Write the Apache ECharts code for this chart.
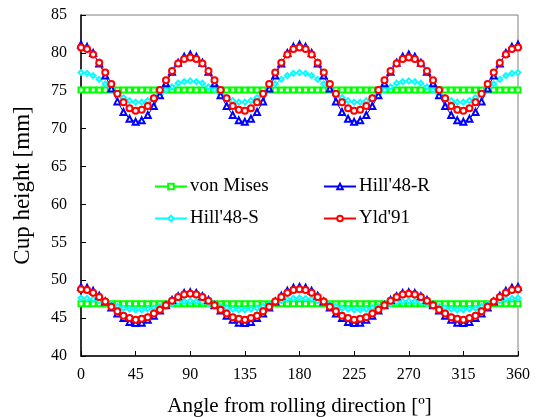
<!DOCTYPE html>
<html>
<head>
<meta charset="utf-8">
<script src="https://cdn.jsdelivr.net/npm/echarts@6/dist/echarts.min.js"></script>
<style>html,body{margin:0;padding:0;background:#fff}#c{width:539px;height:417px}</style>
</head>
<body>
<div id="c"></div>
<script>
// Angle from rolling direction [deg]
const angles = [0,5,10,15,20,25,30,35,40,45,50,55,60,65,70,75,80,85,90,95,100,105,110,115,120,125,130,135,140,145,150,155,160,165,170,175,180,185,190,195,200,205,210,215,220,225,230,235,240,245,250,255,260,265,270,275,280,285,290,295,300,305,310,315,320,325,330,335,340,345,350,355,360];
const xTicks = [0,45,90,135,180,225,270,315,360];
const yTicks = [40,45,50,55,60,65,70,75,80,85];

// Upper group (cup height ~75 mm)
const vonMisesHi = [75.1,75.1,75.1,75.1,75.1,75.1,75.1,75.1,75.1,75.1,75.1,75.1,75.1,75.1,75.1,75.1,75.1,75.1,75.1,75.1,75.1,75.1,75.1,75.1,75.1,75.1,75.1,75.1,75.1,75.1,75.1,75.1,75.1,75.1,75.1,75.1,75.1,75.1,75.1,75.1,75.1,75.1,75.1,75.1,75.1,75.1,75.1,75.1,75.1,75.1,75.1,75.1,75.1,75.1,75.1,75.1,75.1,75.1,75.1,75.1,75.1,75.1,75.1,75.1,75.1,75.1,75.1,75.1,75.1,75.1,75.1,75.1,75.1];
const hillRHi = [81.1,80.8,80.0,78.6,77.0,75.3,73.6,72.2,71.3,70.9,71.1,71.8,73.0,74.4,76.0,77.5,78.7,79.5,79.8,
79.5,78.7,77.5,76.0,74.4,73.0,71.8,71.1,70.9,71.3,72.2,73.6,75.3,77.0,78.6,80.0,80.8,81.1,
80.8,80.0,78.6,77.0,75.3,73.6,72.2,71.3,70.9,71.1,71.8,73.0,74.4,76.0,77.5,78.7,79.5,79.8,
79.5,78.7,77.5,76.0,74.4,73.0,71.8,71.1,70.9,71.3,72.2,73.6,75.3,77.0,78.6,80.0,80.8,81.1];
const hillSHi = [77.4,77.3,77.0,76.5,75.9,75.2,74.6,74.1,73.7,73.5,73.5,73.7,74.1,74.5,75.1,75.5,76.0,76.2,76.3,
76.2,76.0,75.5,75.1,74.5,74.1,73.7,73.5,73.5,73.7,74.1,74.6,75.2,75.9,76.5,77.0,77.3,77.4,
77.3,77.0,76.5,75.9,75.2,74.6,74.1,73.7,73.5,73.5,73.7,74.1,74.5,75.1,75.5,76.0,76.2,76.3,
76.2,76.0,75.5,75.1,74.5,74.1,73.7,73.5,73.5,73.7,74.1,74.6,75.2,75.9,76.5,77.0,77.3,77.4];
const yld91Hi = [80.7,80.5,79.8,78.7,77.4,75.9,74.6,73.5,72.7,72.35,72.5,73.0,74.0,75.1,76.4,77.6,78.6,79.2,79.4,
79.2,78.6,77.6,76.4,75.1,74.0,73.0,72.5,72.35,72.7,73.5,74.6,75.9,77.4,78.7,79.8,80.5,80.7,
80.5,79.8,78.7,77.4,75.9,74.6,73.5,72.7,72.35,72.5,73.0,74.0,75.1,76.4,77.6,78.6,79.2,79.4,
79.2,78.6,77.6,76.4,75.1,74.0,73.0,72.5,72.35,72.7,73.5,74.6,75.9,77.4,78.7,79.8,80.5,80.7];

// Lower group (cup height ~47 mm)
const vonMisesLo = [46.9,46.9,46.9,46.9,46.9,46.9,46.9,46.9,46.9,46.9,46.9,46.9,46.9,46.9,46.9,46.9,46.9,46.9,46.9,46.9,46.9,46.9,46.9,46.9,46.9,46.9,46.9,46.9,46.9,46.9,46.9,46.9,46.9,46.9,46.9,46.9,46.9,46.9,46.9,46.9,46.9,46.9,46.9,46.9,46.9,46.9,46.9,46.9,46.9,46.9,46.9,46.9,46.9,46.9,46.9,46.9,46.9,46.9,46.9,46.9,46.9,46.9,46.9,46.9,46.9,46.9,46.9,46.9,46.9,46.9,46.9,46.9,46.9];
const hillRLo = [49.1,49.0,48.6,47.95,47.2,46.4,45.6,45.0,44.5,44.35,44.4,44.8,45.3,46.0,46.7,47.4,47.9,48.3,48.4,
48.3,47.9,47.4,46.7,46.0,45.3,44.8,44.4,44.35,44.5,45.0,45.6,46.4,47.2,47.95,48.6,49.0,49.1,
49.0,48.6,47.95,47.2,46.4,45.6,45.0,44.5,44.35,44.4,44.8,45.3,46.0,46.7,47.4,47.9,48.3,48.4,
48.3,47.9,47.4,46.7,46.0,45.3,44.8,44.4,44.35,44.5,45.0,45.6,46.4,47.2,47.95,48.6,49.0,49.1];
const hillSLo = [47.65,47.6,47.5,47.3,47.05,46.8,46.55,46.3,46.2,46.1,46.1,46.2,46.35,46.5,46.7,46.9,47.1,47.2,47.25,
47.2,47.1,46.9,46.7,46.5,46.35,46.2,46.1,46.1,46.2,46.3,46.55,46.8,47.05,47.3,47.5,47.6,47.65,
47.6,47.5,47.3,47.05,46.8,46.55,46.3,46.2,46.1,46.1,46.2,46.35,46.5,46.7,46.9,47.1,47.2,47.25,
47.2,47.1,46.9,46.7,46.5,46.35,46.2,46.1,46.1,46.2,46.3,46.55,46.8,47.05,47.3,47.5,47.6,47.65];
const yld91Lo = [48.8,48.7,48.35,47.8,47.2,46.5,45.9,45.3,45.0,44.8,44.9,45.1,45.6,46.1,46.7,47.3,47.8,48.1,48.2,
48.1,47.8,47.3,46.7,46.1,45.6,45.1,44.9,44.8,45.0,45.3,45.9,46.5,47.2,47.8,48.35,48.7,48.8,
48.7,48.35,47.8,47.2,46.5,45.9,45.3,45.0,44.8,44.9,45.1,45.6,46.1,46.7,47.3,47.8,48.1,48.2,
48.1,47.8,47.3,46.7,46.1,45.6,45.1,44.9,44.8,45.0,45.3,45.9,46.5,47.2,47.8,48.35,48.7,48.8];

const FONT = "'Liberation Serif','Times New Roman',serif";
const pairs = ys => angles.map((a, i) => [a, ys[i]]);

const styles = {
  "von Mises": {color: '#00ff00', symbol: 'emptyRect', size: 5},
  "Hill'48-S": {color: '#00ffff', symbol: 'emptyDiamond', size: 5},
  "Hill'48-R": {color: '#0000ff', symbol: 'emptyTriangle', size: 6},
  "Yld'91":    {color: '#ff0000', symbol: 'emptyCircle', size: 6}
};
function mk(name, ys) {
  const s = styles[name];
  return {
    name: name, type: 'line', data: pairs(ys),
    symbol: s.symbol, symbolSize: s.size, showSymbol: true,
    lineStyle: {color: s.color, width: 1},
    itemStyle: {color: s.color, borderColor: s.color, borderWidth: 1},
    animation: false, silent: true
  };
}

const chart = echarts.init(document.getElementById('c'), null, {renderer: 'canvas'});
const legendCommon = {
  orient: 'vertical', top: 177, padding: 0, itemWidth: 32, itemHeight: 7, itemGap: 13,
  textStyle: {fontFamily: FONT, fontSize: 19, color: '#000', padding: [0, 0, 0, -2]},
  selectedMode: false
};
chart.setOption({
  backgroundColor: '#fff',
  textStyle: {fontFamily: FONT},
  grid: {left: 81, right: 21, top: 15, bottom: 61, show: true, borderColor: '#808080', borderWidth: 1,
         backgroundColor: 'transparent', outerBoundsMode: 'none', containLabel: false},
  legend: [
    Object.assign({}, legendCommon, {left: 154, data: ["von Mises", "Hill'48-S"]}),
    Object.assign({}, legendCommon, {left: 323, data: ["Hill'48-R", "Yld'91"]})
  ],
  xAxis: {
    type: 'value', min: xTicks[0], max: xTicks[xTicks.length - 1], interval: 45,
    name: 'Angle from rolling direction [º]', nameLocation: 'middle', nameGap: 40,
    nameTextStyle: {fontFamily: FONT, fontSize: 21, color: '#000'},
    axisLine: {show: true, lineStyle: {color: '#000', width: 1.5}},
    axisTick: {show: true, inside: true, length: 5, lineStyle: {color: '#000', width: 1}},
    axisLabel: {fontFamily: FONT, fontSize: 16, color: '#000', margin: 11},
    splitLine: {show: false}
  },
  yAxis: {
    type: 'value', min: yTicks[0], max: yTicks[yTicks.length - 1], interval: 5,
    name: 'Cup height [mm]', nameLocation: 'middle', nameGap: 47,
    nameTextStyle: {fontFamily: FONT, fontSize: 23, color: '#000'},
    axisLine: {show: true, lineStyle: {color: '#000', width: 1.5}},
    axisTick: {show: true, inside: true, length: 5, lineStyle: {color: '#000', width: 1}},
    axisLabel: {fontFamily: FONT, fontSize: 16, color: '#000', margin: 14},
    splitLine: {show: false}
  },
  series: [
    mk("von Mises", vonMisesHi), mk("von Mises", vonMisesLo),
    mk("Hill'48-S", hillSHi), mk("Hill'48-S", hillSLo),
    mk("Hill'48-R", hillRHi), mk("Hill'48-R", hillRLo),
    mk("Yld'91", yld91Hi), mk("Yld'91", yld91Lo)
  ]
});
</script>
</body>
</html>
